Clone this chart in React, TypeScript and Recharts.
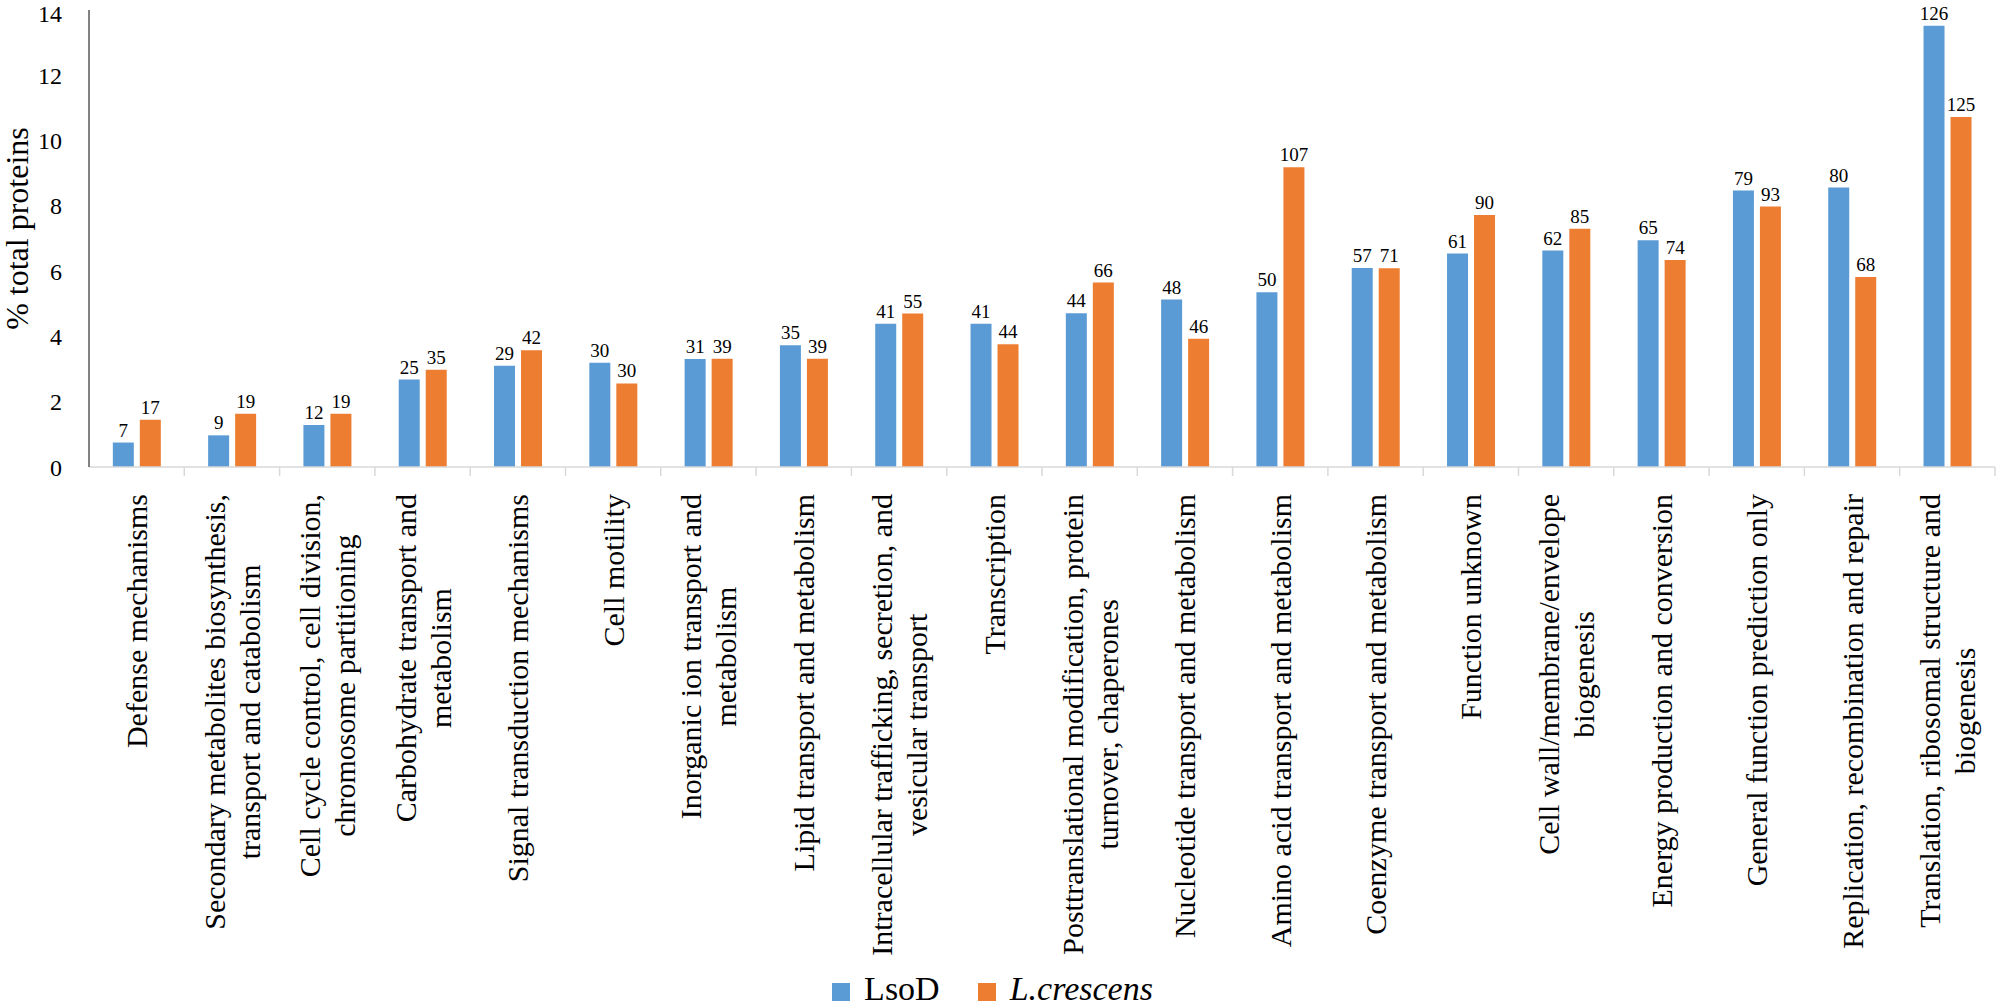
import React from "react";
import { Bar, BarChart, XAxis, YAxis, Legend, LabelList, Label } from "recharts";

// COG categories (line breaks as in the original axis labels)
const categories = [
  "Defense mechanisms",
  "Secondary metabolites biosynthesis,\ntransport and catabolism",
  "Cell cycle control, cell division,\nchromosome partitioning",
  "Carbohydrate transport and\nmetabolism",
  "Signal transduction mechanisms",
  "Cell motility",
  "Inorganic ion transport and\nmetabolism",
  "Lipid transport and metabolism",
  "Intracellular trafficking, secretion, and\nvesicular transport",
  "Transcription",
  "Posttranslational modification, protein\nturnover, chaperones",
  "Nucleotide transport and metabolism",
  "Amino acid transport and metabolism",
  "Coenzyme transport and metabolism",
  "Function unknown",
  "Cell wall/membrane/envelope\nbiogenesis",
  "Energy production and conversion",
  "General function prediction only",
  "Replication, recombination and repair",
  "Translation, ribosomal structure and\nbiogenesis",
];

// % of total proteins
const lsodPct = [0.75, 0.97, 1.29, 2.68, 3.1, 3.19, 3.31, 3.73, 4.39, 4.39, 4.71, 5.13, 5.35, 6.1, 6.54, 6.63, 6.95, 8.47, 8.56, 13.52];
const lcPct = [1.45, 1.63, 1.63, 2.98, 3.58, 2.56, 3.32, 3.32, 4.7, 3.76, 5.65, 3.93, 9.18, 6.09, 7.72, 7.3, 6.34, 7.98, 5.82, 10.72];

// protein counts shown above the bars
const lsodCount = [7, 9, 12, 25, 29, 30, 31, 35, 41, 41, 44, 48, 50, 57, 61, 62, 65, 79, 80, 126];
const lcCount = [17, 19, 19, 35, 42, 30, 39, 39, 55, 44, 66, 46, 107, 71, 90, 85, 74, 93, 68, 125];

const yTicks = [0, 2, 4, 6, 8, 10, 12, 14];

const data = categories.map((name, i) => ({
  name,
  lsod: lsodPct[i],
  lc: lcPct[i],
  lsodN: lsodCount[i],
  lcN: lcCount[i],
}));

const FONT = "'Liberation Serif', 'Times New Roman', serif";
const LABEL_SIZE = 30;
const LINE_H = 35;

let ctx: CanvasRenderingContext2D | null = null;
const measure = (s: string) => {
  if (!ctx) ctx = document.createElement("canvas").getContext("2d");
  if (!ctx) return s.length * LABEL_SIZE * 0.45;
  ctx.font = `${LABEL_SIZE}px "Liberation Serif"`;
  return ctx.measureText(s).width;
};

const CategoryTick = (props: any) => {
  const { x, y, payload } = props;
  const half = payload.offset ?? 47.65;
  const lines = String(payload.value).split("\n");
  const maxW = Math.max(...lines.map(measure));
  return (
    <g>
      <line x1={x + half} x2={x + half} y1={y} y2={y + 9} stroke="#d9d9d9" strokeWidth={1.5} />
      <g transform={`translate(${x},${y + 27}) rotate(-90)`}>
        {lines.map((l, i) => (
          <text
            key={i}
            x={-maxW / 2}
            y={(i - (lines.length - 1) / 2) * LINE_H}
            textAnchor="middle"
            dominantBaseline="central"
            fontFamily={FONT}
            fontSize={LABEL_SIZE}
            fill="#000"
          >
            {l}
          </text>
        ))}
      </g>
    </g>
  );
};

// y-axis title, a little above the middle of the plot like the original
const YTitle = (props: any) => {
  const vb = props.viewBox || { x: 0, y: 10, height: 456 };
  const cx = vb.x + 17;
  const cy = vb.y + vb.height / 2 - 10;
  return (
    <text
      x={cx}
      y={cy}
      transform={`rotate(-90, ${cx}, ${cy})`}
      textAnchor="middle"
      dominantBaseline="central"
      fontFamily={FONT}
      fontSize={32}
      fill="#000"
    >
      % total proteins
    </text>
  );
};

const legendText = (value: string) => (
  <span
    style={{
      color: "#000",
      fontStyle: value === "L.crescens" ? "italic" : "normal",
      paddingLeft: 10,
      paddingRight: value === "LsoD" ? 28 : 0,
    }}
  >
    {value}
  </span>
);

export default function App() {
  return (
    <div style={{ position: "absolute", left: 0, top: 0, width: 2000, height: 1008, background: "#fff" }}>
      <BarChart
        width={2000}
        height={1008}
        data={data}
        margin={{ top: 10, right: 5, left: 0, bottom: 0 }}
        barCategoryGap="25%"
        barGap={6}
      >
        <XAxis
          dataKey="name"
          interval={0}
          tick={<CategoryTick />}
          tickLine={false}
          tickSize={0}
          tickMargin={0}
          height={503}
          axisLine={{ stroke: "#d9d9d9", strokeWidth: 1.5 }}
        />
        <YAxis
          domain={[0, 14]}
          ticks={yTicks}
          width={89}
          tickLine={false}
          tickSize={6}
          tickMargin={21}
          axisLine={{ stroke: "#595959", strokeWidth: 1.5 }}
          tick={{ fill: "#000", fontSize: 24, fontFamily: FONT }}
        >
          <Label content={<YTitle />} />
        </YAxis>
        <Legend
          verticalAlign="bottom"
          iconType="square"
          iconSize={18}
          itemSorter={(item: any) => (item.dataKey === "lsod" ? 0 : 1)}
          formatter={legendText}
          wrapperStyle={{ fontFamily: FONT, fontSize: 34 }}
        />
        <Bar dataKey="lsod" name="LsoD" fill="#5b9bd5" isAnimationActive={false}>
          <LabelList dataKey="lsodN" position="top" offset={6} fill="#000" fontSize={19} fontFamily={FONT} />
        </Bar>
        <Bar dataKey="lc" name="L.crescens" fill="#ed7d31" isAnimationActive={false}>
          <LabelList dataKey="lcN" position="top" offset={6} fill="#000" fontSize={19} fontFamily={FONT} />
        </Bar>
      </BarChart>
    </div>
  );
}
